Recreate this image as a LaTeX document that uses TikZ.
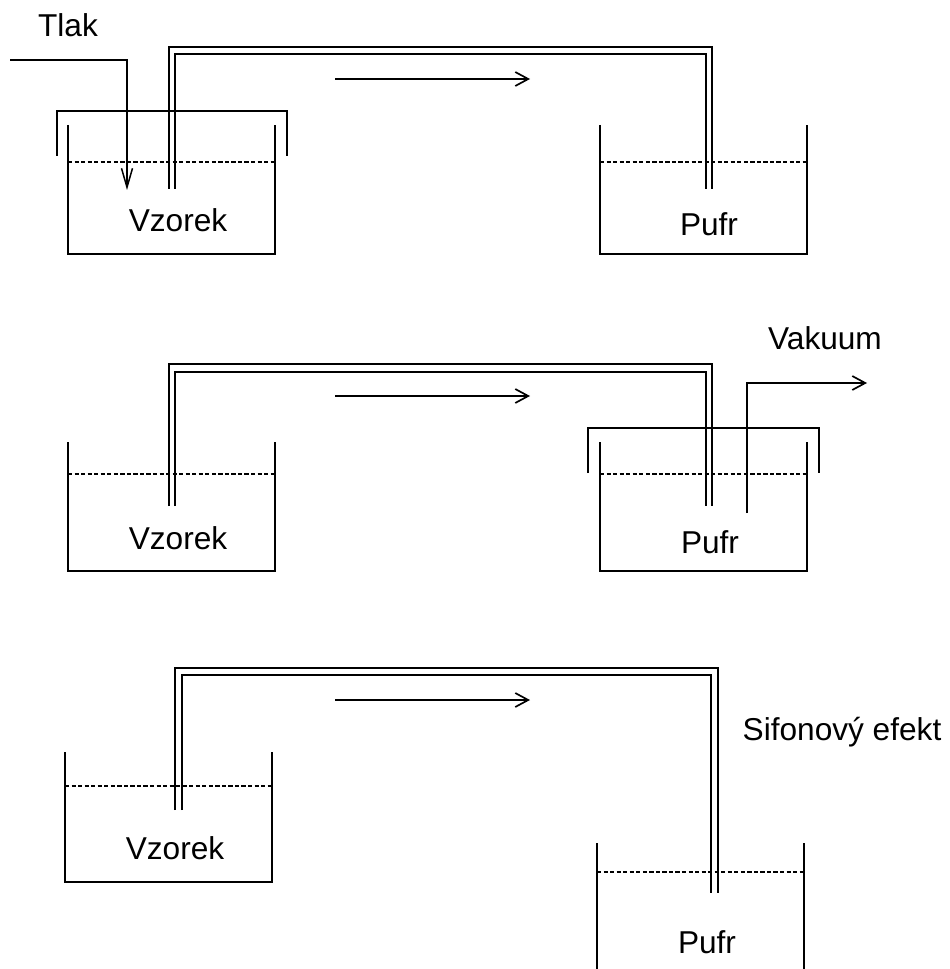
\documentclass[tikz,border=0pt]{standalone}
\usepackage{fontspec}
\setmainfont{Liberation Sans}
\usetikzlibrary{arrows.meta}
\begin{document}
\begin{tikzpicture}[
  x=.02cm,y=-.02cm,
  wall/.style={draw=black,line width=.85pt},
  level/.style={draw=black,line width=.85pt,dash pattern=on 2.4pt off 1.32pt},
  flow/.style={-{Straight Barb[length=2.6mm,width=2.8mm]},draw=black,line width=.95pt},
  label/.style={anchor=base,inner sep=0pt,font=\fontsize{18}{22}\selectfont}
]
\useasboundingbox (0,0) rectangle (949,969);
% tlak
\draw[wall] (68,125) -- (68,254) -- (275,254) -- (275,125);
\draw[level] (68,162) -- (275,162);
\draw[wall] (57,156) -- (57,111) -- (287,111) -- (287,156);
\draw[wall] (600,125) -- (600,254) -- (807,254) -- (807,125);
\draw[level] (600,162) -- (807,162);
\draw[wall] (169,189) -- (169,47) -- (712,47) -- (712,189);
\draw[wall] (175,189) -- (175,54) -- (706,54) -- (706,189);
\draw[-{Straight Barb[length=3.8mm,width=2.2mm]},wall] (10,60) -- (127,60) -- (127,190);
\draw[flow] (335,79) -- (530,79);
\node[label] (tlak) at (68,37) {Tlak};
\node[label] (vzorekA) at (178,232) {Vzorek};
\node[label] (pufrA) at (709,236) {Pufr};
% vakuum
\draw[wall] (68,442) -- (68,571) -- (275,571) -- (275,442);
\draw[level] (68,474) -- (275,474);
\draw[wall] (600,442) -- (600,571) -- (807,571) -- (807,442);
\draw[level] (600,474) -- (807,474);
\draw[wall] (588,473) -- (588,428) -- (819,428) -- (819,473);
\draw[wall] (169,506) -- (169,364) -- (712,364) -- (712,506);
\draw[wall] (175,506) -- (175,372) -- (706,372) -- (706,506);
\draw[flow] (747,513) -- (747,383) -- (867,383);
\draw[flow] (335,396) -- (530,396);
\node[label] (vakuum) at (825,349) {Vakuum};
\node[label] (vzorekB) at (178,549) {Vzorek};
\node[label] (pufrB) at (710,553) {Pufr};
% sifon
\draw[wall] (65,752) -- (65,882) -- (272,882) -- (272,752);
\draw[level] (65,786) -- (272,786);
\draw[wall] (597,843) -- (597,969);
\draw[wall] (804,843) -- (804,969);
\draw[level] (597,872) -- (804,872);
\draw[wall] (175,810) -- (175,668) -- (718,668) -- (718,893);
\draw[wall] (182,810) -- (182,675) -- (711,675) -- (711,893);
\draw[flow] (335,700) -- (530,700);
\node[label] (sifon) at (842,740) {Sifonový efekt};
\node[label] (vzorekC) at (175,859) {Vzorek};
\node[label] (pufrC) at (707,953) {Pufr};
\end{tikzpicture}
\end{document}
